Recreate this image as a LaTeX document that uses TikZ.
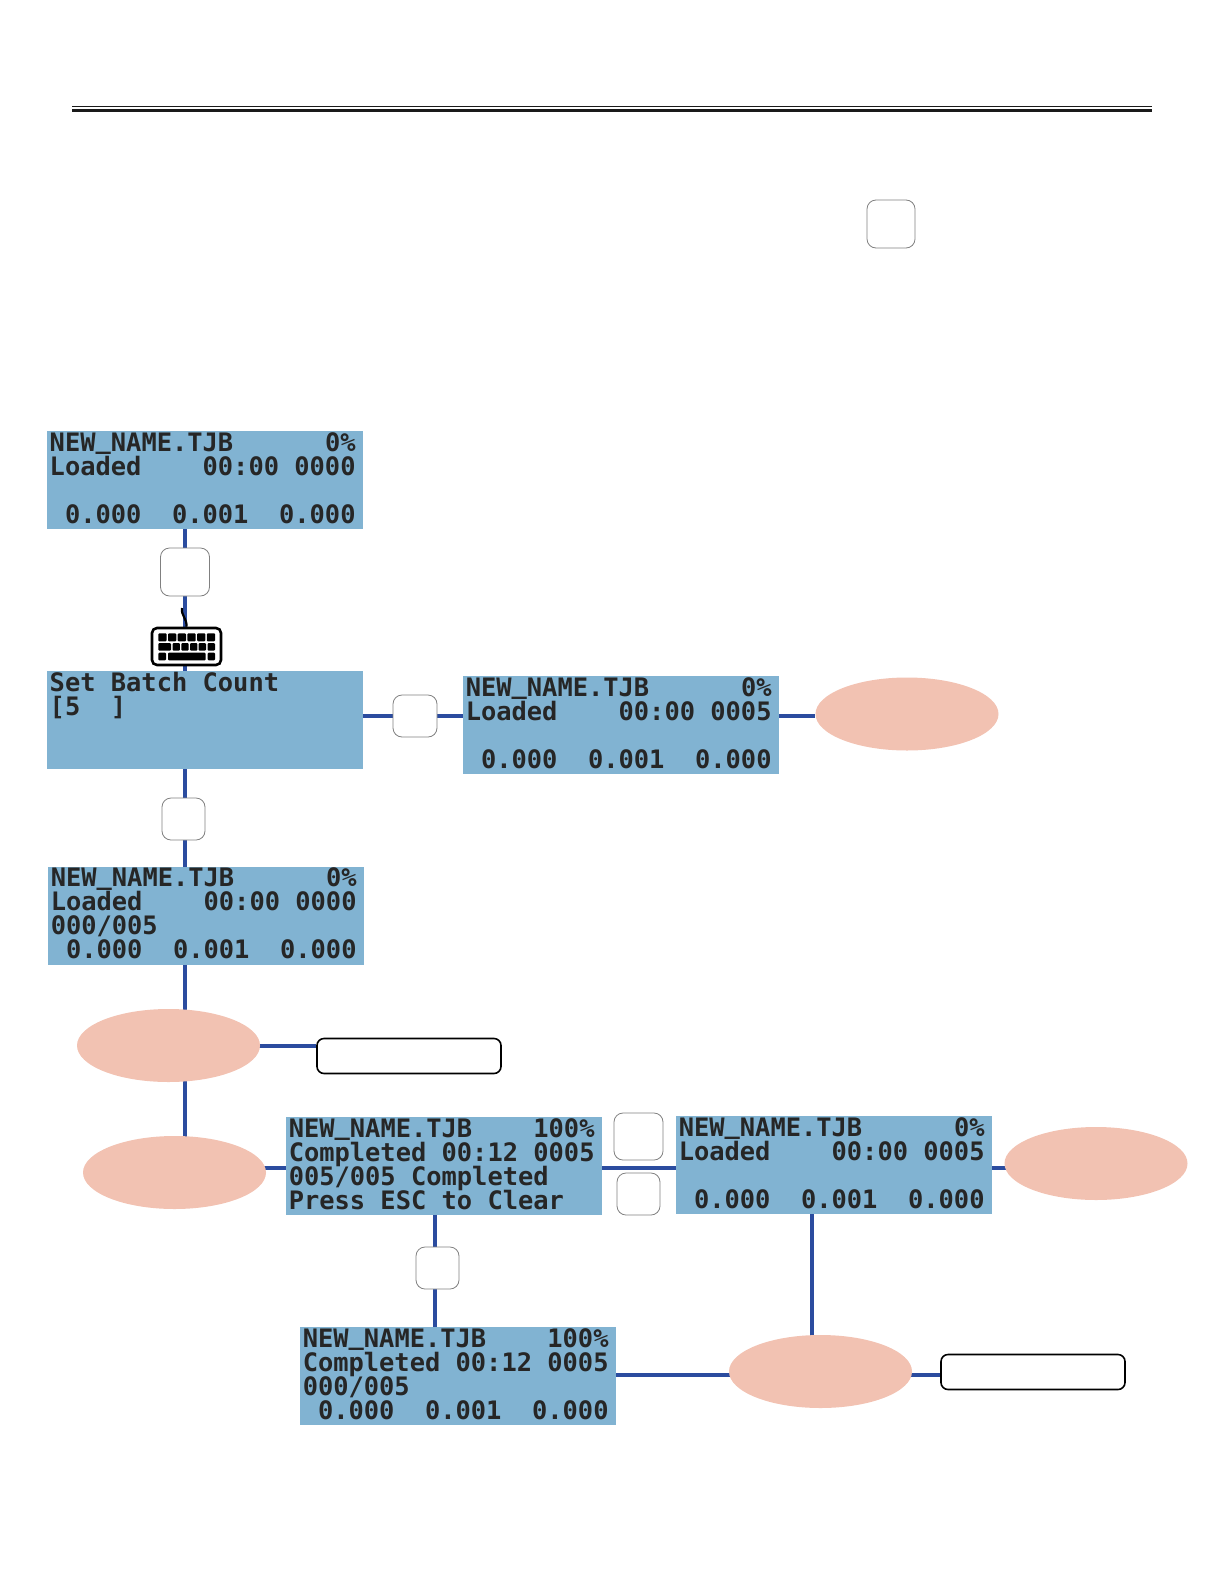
\documentclass[tikz,border=0pt]{standalone}
\usepackage{fontspec}
\newfontfamily\lcdfont{DejaVu Sans Mono}[BoldFont={DejaVu Sans Mono Bold}]
\usetikzlibrary{shapes.geometric,backgrounds}
\newcommand{\lsp}{\phantom{0}}
\newcommand{\usc}{\raisebox{1.3pt}{\_}}
\definecolor{lcdblue}{HTML}{81B3D2}
\definecolor{linkblue}{HTML}{2B4C9F}
\definecolor{oval}{HTML}{F2C2B2}
\definecolor{rulek}{HTML}{1A1A1A}
\tikzset{
 x=0.5pt,y=-0.5pt,
 lcd/.style={fill=lcdblue,anchor=north west,minimum width=157.75pt,minimum height=49pt,inner sep=0pt,outer sep=0pt,
   text width=155pt,align=left,text=black!85,font=\lcdfont\bfseries\fontsize{12.7}{12}\selectfont,
   execute at begin node={\lineskiplimit=-6pt\relax},
   execute at end node={\rule[-2pt]{0pt}{2pt}}},
 link/.style={draw=linkblue,line width=2pt},
 keybox/.style={draw=black!50,fill=white,rounded corners=4.5pt,line width=0.4pt,inner sep=0pt,minimum width=#1},
 oval/.style={ellipse,fill=oval,minimum width=91.5pt,minimum height=36.5pt,inner sep=0pt},
 msgbox/.style={draw=black,fill=white,rounded corners=3.5pt,line width=0.8pt,minimum width=92pt,minimum height=17.5pt,inner sep=0pt},
 kbkey/.style={fill=black,rounded corners=0.5pt},
}
\begin{document}
\begin{tikzpicture}
\useasboundingbox (0,0) rectangle (1224,1584);
% header rules
\coordinate (ra) at (72,106.3); \coordinate (rb) at (1152,106.3);
\coordinate (rc) at (72,110.3); \coordinate (rd) at (1152,110.3);
\draw[rulek,line width=0.55pt] (ra) -- (rb);
\draw[rulek,line width=1.5pt] (rc) -- (rd);
% screens
\node[lcd] (lcda) at (47,431) {NEW\usc NAME.TJB\lsp\lsp\lsp\lsp\lsp\lsp0\%\\Loaded\lsp\lsp\lsp\lsp00:00\lsp0000\\\lsp\\\lsp0.000\lsp\lsp0.001\lsp\lsp0.000};
\node[lcd] (lcdb) at (47,671) {Set\lsp Batch\lsp Count\\{[}5\lsp\lsp{]}\\\lsp\\\lsp};
\node[lcd] (lcdc) at (463,676) {NEW\usc NAME.TJB\lsp\lsp\lsp\lsp\lsp\lsp0\%\\Loaded\lsp\lsp\lsp\lsp00:00\lsp0005\\\lsp\\\lsp0.000\lsp\lsp0.001\lsp\lsp0.000};
\node[lcd] (lcdd) at (48,866.5) {NEW\usc NAME.TJB\lsp\lsp\lsp\lsp\lsp\lsp0\%\\Loaded\lsp\lsp\lsp\lsp00:00\lsp0000\\000/005\\\lsp0.000\lsp\lsp0.001\lsp\lsp0.000};
\node[lcd] (lcde) at (286,1117) {NEW\usc NAME.TJB\lsp\lsp\lsp\lsp100\%\\Completed\lsp00:12\lsp0005\\005/005\lsp Completed\\Press\lsp ESC\lsp to\lsp Clear};
\node[lcd] (lcdf) at (676,1116) {NEW\usc NAME.TJB\lsp\lsp\lsp\lsp\lsp\lsp0\%\\Loaded\lsp\lsp\lsp\lsp00:00\lsp0005\\\lsp\\\lsp0.000\lsp\lsp0.001\lsp\lsp0.000};
\node[lcd] (lcdg) at (300,1327) {NEW\usc NAME.TJB\lsp\lsp\lsp\lsp100\%\\Completed\lsp00:12\lsp0005\\000/005\\\lsp0.000\lsp\lsp0.001\lsp\lsp0.000};
% ovals
\node[oval] (ova) at (907,714) {};
\node[oval] (ovb) at (168.5,1045.5) {};
\node[oval] (ovc) at (174.5,1172.5) {};
\node[oval] (ovd) at (1096,1163.5) {};
\node[oval] (ove) at (820.5,1371.5) {};
% message boxes
\node[msgbox] (msga) at (409,1056) {};
\node[msgbox] (msgb) at (1033,1372) {};
% keyboard frame
\node[draw=black,fill=white,line width=1.3pt,rounded corners=2.5pt,minimum width=34.5pt,minimum height=18.5pt,inner sep=0pt] (kbd) at (186.5,646.5) {};
\coordinate (cord) at (182,608);
% keys
\node[keybox=24.5pt,minimum height=24pt] (keya) at (185,572) {};
\node[keybox=24pt,minimum height=24pt] (keyb) at (891,224) {};
\node[keybox=22pt,minimum height=21pt] (keyc) at (415,716) {};
\node[keybox=21.5pt,minimum height=21pt] (keyd) at (183.5,819) {};
\node[keybox=24.5pt,minimum height=23.5pt] (keye) at (638.5,1136.5) {};
\node[keybox=21.5pt,minimum height=21pt] (keyf) at (638.5,1194) {};
\node[keybox=21.5pt,minimum height=21pt] (keyg) at (437.5,1268) {};
% connector levels
\coordinate (busa) at (185,1168);
\coordinate (busb) at (435,1374.5);
\coordinate (busc) at (812,1374.5);
% connectors
\begin{pgfonlayer}{background}
\draw[link] (lcda.south -| keya) -- (keya.north);
\draw[link] (keya.south) -- (kbd.north -| keya);
\draw[link] (kbd.south -| keya) -- (lcdb.north -| keya);
\draw[link] (lcdb.east |- keyc) -- (keyc.west);
\draw[link] (keyc.east) -- (lcdc.west |- keyc);
\draw[link] (lcdc.east |- keyc) -- (ova.west |- keyc);
\draw[link] (lcdb.south -| keya) -- (keyd.north -| keya);
\draw[link] (keyd.south -| keya) -- (lcdd.north -| keya);
\draw[link] (lcdd.south -| keya) -- (ovb.center -| keya);
\draw[link] (ovb.center) -- (msga.west |- ovb);
\draw[link] (ovb.center -| keya) -- (ovc.center -| keya);
\draw[link] (ovc |- busa) -- (lcde.west |- busa);
\draw[link] (lcde.east |- busa) -- (lcdf.west |- busa);
\draw[link] (lcdf.east |- busa) -- (ovd |- busa);
\draw[link] (lcde.south -| busb) -- (keyg.north -| busb);
\draw[link] (keyg.south -| busb) -- (lcdg.north -| busb);
\draw[link] (lcdg.east |- busb) -- (ove |- busb);
\draw[link] (ove |- busb) -- (msgb.west |- busb);
\draw[link] (lcdf.south -| busc) -- (busc);
\end{pgfonlayer}
% keyboard cord and keys
\draw[black,line width=1.1pt] (cord) .. controls (181,616) and (187,618) .. (kbd.north);
\foreach \i in {0,...,5}{
  \fill[kbkey] ({158.3+\i*9.7},633.3) rectangle ++(8.3,8);
}
\fill[kbkey] (158.3,643) rectangle (171,650.7);
\foreach \i in {0,...,3}{
  \fill[kbkey] ({172.6+\i*8.7},643) rectangle ++(7.3,7.7);
}
\fill[kbkey] (207.5,643) rectangle (215,650.7);
\fill[kbkey] (158.3,652.7) rectangle (166,660.3);
\fill[kbkey] (168,652.7) rectangle (205.7,660.3);
\fill[kbkey] (207.7,652.7) rectangle (215,660.3);
\end{tikzpicture}
\end{document}
